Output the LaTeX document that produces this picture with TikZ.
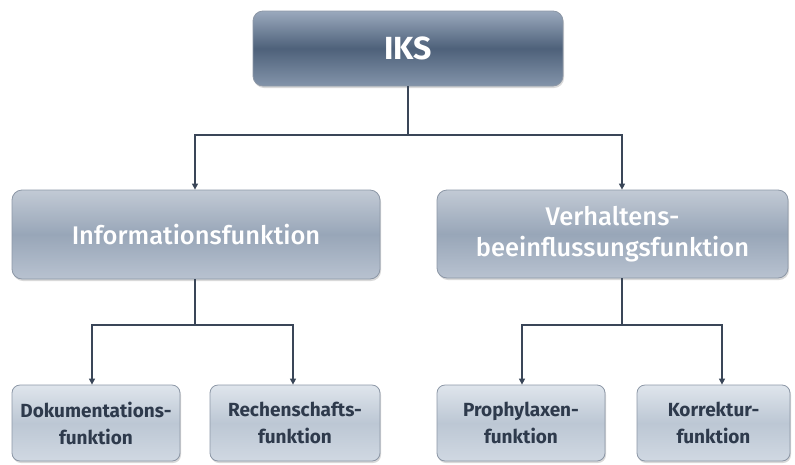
\documentclass[tikz,border=0pt]{standalone}
\usepackage{fontspec}
\setmainfont{Fira Sans}
\newfontfamily\medfont{Fira Sans}[UprightFont={* Medium}]
\usepackage{tikz}
\usetikzlibrary{arrows.meta,positioning,shadows}
\definecolor{linecol}{HTML}{3A4658}
\definecolor{darktxt}{HTML}{2E3A4C}
\definecolor{edgecol}{HTML}{8C97A6}
\definecolor{topA}{HTML}{9AA9BD}
\definecolor{topB}{HTML}{4E617A}
\definecolor{topC}{HTML}{8394AA}
\definecolor{midA}{HTML}{C2CAD5}
\definecolor{midB}{HTML}{98A6B8}
\definecolor{midC}{HTML}{B8C2D0}
\definecolor{lowA}{HTML}{DFE5EC}
\definecolor{lowB}{HTML}{BCC7D4}
\definecolor{lowC}{HTML}{D0D8E2}

\begin{document}
\begin{tikzpicture}[
  x=1pt,y=-1pt,
  box/.style={draw=edgecol,line width=0.8pt,rounded corners=10pt,inner sep=0pt,
              align=center,drop shadow={shadow xshift=1pt,shadow yshift=-2pt,
              opacity=0.25,fill=black!60}},
  topbox/.style={box,top color=topA,bottom color=topC,middle color=topB,
                 text=white,font=\fontsize{32}{36}\selectfont\bfseries},
  midbox/.style={box,top color=midA,bottom color=midC,middle color=midB,
                 text=white,font=\fontsize{25.5}{31}\selectfont\medfont},
  lowbox/.style={box,rounded corners=8pt,minimum height=76pt,
                 top color=lowA,bottom color=lowC,middle color=lowB,
                 text=darktxt,font=\fontsize{19}{27}\selectfont\bfseries},
  ar/.style={-{Triangle[length=6pt,width=6pt]},line width=1.3pt,linecol},
]
\path[use as bounding box] (0,0) rectangle (795,464);

\node[topbox,minimum width=310pt,minimum height=75pt] (iks) at (408,48.5) {IKS};
\node[midbox,minimum width=368pt,minimum height=89pt] (info) at (196,234.5)
  {Informationsfunktion};
\node[midbox,minimum width=351pt,minimum height=88pt] (verh) at (612.5,234)
  {Verhaltens-\\beeinflussungsfunktion};

\node[lowbox,minimum width=168pt] (doku) at (96,423) {Dokumentations-\\funktion};
\node[lowbox,minimum width=170pt] (rech) at (295,423) {Rechenschafts-\\funktion};
\node[lowbox,minimum width=168pt] (proph) at (521,423) {Prophylaxen-\\funktion};
\node[lowbox,minimum width=153pt] (korr) at (713.5,423) {Korrektur-\\funktion};

\coordinate (j1) at (408,135);
\coordinate (j2) at (195,325);
\coordinate (j3) at (622,325);

\draw[line width=1.3pt,linecol] (iks.south) -- (j1);
\draw[ar] (j1) -| ([xshift=-1pt]info.north);
\draw[ar] (j1) -| ([xshift=9.5pt]verh.north);

\draw[line width=1.3pt,linecol] ([xshift=-1pt]info.south) -- (j2);
\draw[ar] (j2) -| ([xshift=-4pt]doku.north);
\draw[ar] (j2) -| ([xshift=-2pt]rech.north);

\draw[line width=1.3pt,linecol] ([xshift=9.5pt]verh.south) -- (j3);
\draw[ar] (j3) -| ([xshift=1pt]proph.north);
\draw[ar] (j3) -| ([xshift=8.5pt]korr.north);
\end{tikzpicture}
\end{document}
